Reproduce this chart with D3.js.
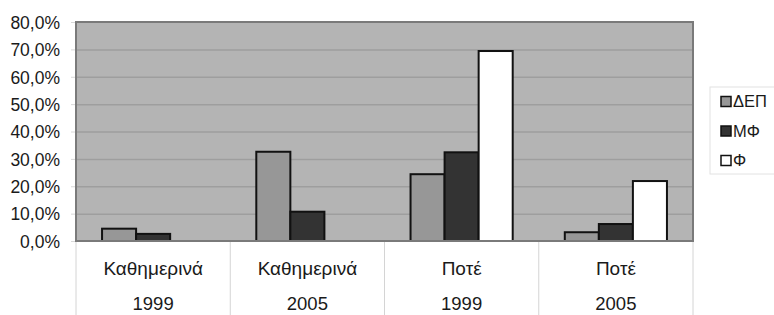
<!DOCTYPE html>
<html lang="el">
<head>
<meta charset="UTF-8">
<title>Chart</title>
<style>
  body { margin: 0; background: #fff; }
  svg { font-family: "Liberation Sans", Arial, sans-serif; }
</style>
<script src="https://cdn.jsdelivr.net/npm/d3@7"></script>
</head>
<body>
<div id="chart"></div>
<script>
var categories = ["Καθημερινά", "Καθημερινά", "Ποτέ", "Ποτέ"];
var years = ["1999", "2005", "1999", "2005"];
var series = ["ΔΕΠ", "ΜΦ", "Φ"];
var valDEP = [4.5, 32.6, 24.4, 3.2];
var valMF = [2.6, 10.7, 32.4, 6.2];
var valF = [0, 0, 69.4, 21.9];
var yTicks = [0, 10, 20, 30, 40, 50, 60, 70, 80];

var colors = ["#979797", "#333333", "#ffffff"];
var values = [valDEP, valMF, valF];

var width = 774, height = 315;
var m = { left: 76, right: 693, top: 22, bottom: 241 };

var svg = d3.select("#chart").append("svg")
    .attr("width", width)
    .attr("height", height);

var x0 = d3.scaleBand()
    .domain(d3.range(categories.length))
    .range([m.left, m.right])
    .paddingInner(0);

var x1 = d3.scaleBand()
    .domain(series)
    .range([0, x0.bandwidth()])
    .paddingInner(0)
    .paddingOuter(0.765);

var y = d3.scaleLinear()
    .domain([0, 80])
    .range([m.bottom, m.top]);

var fmt = function (d) { return d.toFixed(1).replace(".", ",") + "%"; };

// plot area
svg.append("rect")
    .attr("x", m.left).attr("y", m.top)
    .attr("width", m.right - m.left).attr("height", m.bottom - m.top)
    .attr("fill", "#b4b4b4");

// gridlines
svg.append("g").selectAll("line")
    .data(yTicks.filter(function (d) { return d > 0 && d < 80; }))
    .enter().append("line")
    .attr("x1", m.left).attr("x2", m.right)
    .attr("y1", function (d) { return y(d) + 0.5; })
    .attr("y2", function (d) { return y(d) + 0.5; })
    .attr("stroke", "#9e9e9e")
    .attr("stroke-width", 1.5);

// y axis
var yAxis = svg.append("g")
    .attr("transform", "translate(" + m.left + ",0)")
    .call(d3.axisLeft(y).tickValues(yTicks).tickFormat(fmt).tickSize(5).tickPadding(11));
yAxis.select(".domain").remove();
yAxis.selectAll(".tick line").attr("stroke", "#d8d8d8");
yAxis.selectAll("text")
    .attr("fill", "#1a1a1a")
    .style("font-size", "17.5px")
    .attr("dy", "0.36em");

// category separators below axis
svg.append("g").selectAll("line")
    .data(d3.range(categories.length + 1))
    .enter().append("line")
    .attr("x1", function (i) { return i < categories.length ? x0(i) : m.right; })
    .attr("x2", function (i) { return i < categories.length ? x0(i) : m.right; })
    .attr("y1", m.bottom).attr("y2", height)
    .attr("stroke", "#d4d4d4")
    .attr("stroke-width", 1);

// bars
series.forEach(function (s, si) {
    var rows = values[si].map(function (v, i) { return { i: i, v: v }; })
        .filter(function (d) { return d.v > 0; });
    svg.append("g").selectAll("rect")
        .data(rows)
        .enter().append("rect")
        .attr("x", function (d) { return x0(d.i) + x1(s); })
        .attr("y", function (d) { return y(d.v); })
        .attr("width", x1.bandwidth())
        .attr("height", function (d) { return m.bottom - y(d.v); })
        .attr("fill", colors[si])
        .attr("stroke", "#111")
        .attr("stroke-width", 2);
});

// plot border
svg.append("rect")
    .attr("x", m.left).attr("y", m.top)
    .attr("width", m.right - m.left).attr("height", m.bottom - m.top)
    .attr("fill", "none")
    .attr("stroke", "#7a7a7a")
    .attr("stroke-width", 2);

// category labels
var lab = svg.append("g").selectAll("g")
    .data(d3.range(categories.length))
    .enter().append("g")
    .attr("transform", function (i) { return "translate(" + (x0(i) + x0.bandwidth() / 2) + ",0)"; });
lab.append("text")
    .attr("y", 268).attr("dy", "0.36em")
    .attr("text-anchor", "middle")
    .style("font-size", "19px")
    .attr("fill", "#1a1a1a")
    .text(function (i) { return categories[i]; });
lab.append("text")
    .attr("y", 303).attr("dy", "0.36em")
    .attr("text-anchor", "middle")
    .style("font-size", "18.5px")
    .attr("fill", "#1a1a1a")
    .text(function (i) { return years[i]; });

// legend
var legend = svg.append("g").attr("transform", "translate(710,87)");
legend.append("rect")
    .attr("width", 70).attr("height", 87)
    .attr("fill", "#fff")
    .attr("stroke", "#e2e2e2");
var item = legend.selectAll(".item")
    .data(series)
    .enter().append("g")
    .attr("transform", function (d, i) { return "translate(11," + (14.5 + i * 29.5) + ")"; });
item.append("rect")
    .attr("x", 0).attr("y", -5)
    .attr("width", 10).attr("height", 10)
    .attr("fill", function (d, i) { return colors[i]; })
    .attr("stroke", "#111")
    .attr("stroke-width", 1.5);
item.append("text")
    .attr("x", 12).attr("dy", "0.36em")
    .style("font-size", "16.5px")
    .attr("fill", "#1a1a1a")
    .text(function (d) { return d; });
</script>
</body>
</html>
